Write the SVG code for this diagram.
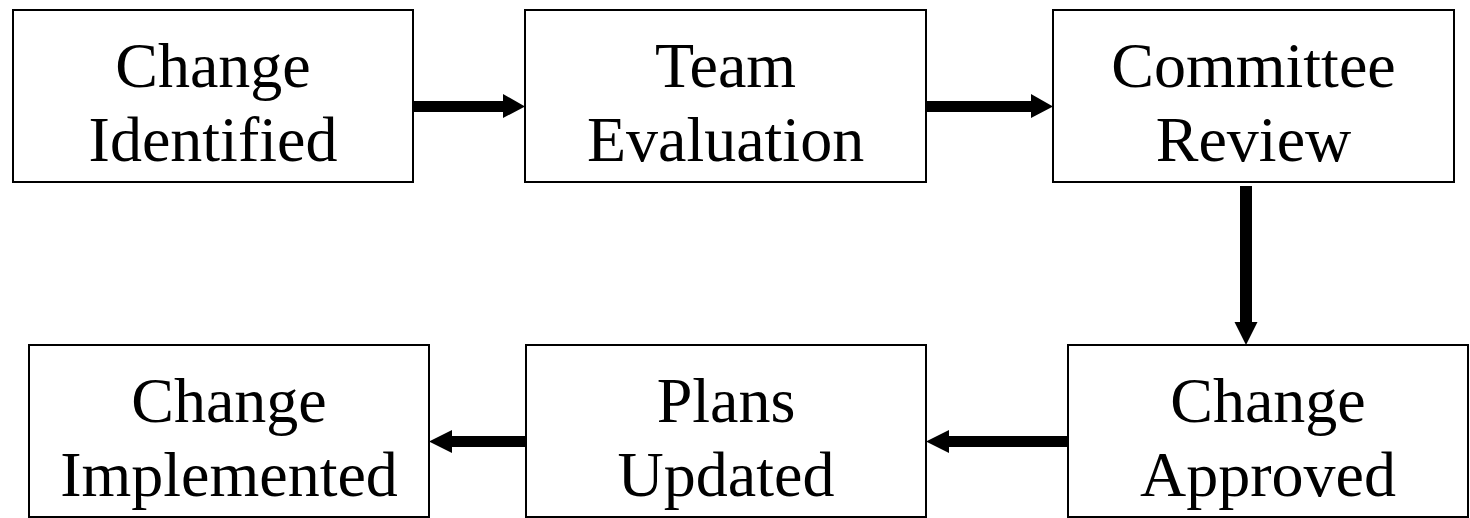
<svg xmlns="http://www.w3.org/2000/svg" width="1470" height="518" viewBox="0 0 1470 518">
  <style>
    .box { fill: #ffffff; stroke: #000000; stroke-width: 2; }
    .label { font-family: "Liberation Serif", "Times New Roman", serif; font-size: 64px; fill: #000000; text-anchor: middle; }
    .arrow { fill: #000000; stroke: none; }
  </style>
  <rect width="1470" height="518" fill="#ffffff"/>

  <g id="change-identified">
    <rect class="box" x="13" y="10" width="400" height="172"/>
    <text class="label" x="213" y="87">Change</text>
    <text class="label" x="213" y="161">Identified</text>
  </g>

  <g id="team-evaluation">
    <rect class="box" x="525" y="10" width="401" height="172"/>
    <text class="label" x="725.5" y="87">Team</text>
    <text class="label" x="725.5" y="161">Evaluation</text>
  </g>

  <g id="committee-review">
    <rect class="box" x="1053" y="10" width="401" height="172"/>
    <text class="label" x="1253.5" y="87">Committee</text>
    <text class="label" x="1253.5" y="161">Review</text>
  </g>

  <g id="change-approved">
    <rect class="box" x="1068" y="345" width="400" height="172"/>
    <text class="label" x="1268" y="422">Change</text>
    <text class="label" x="1268" y="496">Approved</text>
  </g>

  <g id="plans-updated">
    <rect class="box" x="526" y="345" width="400" height="172"/>
    <text class="label" x="726" y="422">Plans</text>
    <text class="label" x="726" y="496">Updated</text>
  </g>

  <g id="change-implemented">
    <rect class="box" x="29" y="345" width="400" height="172"/>
    <text class="label" x="229" y="422">Change</text>
    <text class="label" x="229" y="496">Implemented</text>
  </g>

  <!-- block arrows: shaft plus triangular head -->
  <g id="connectors">
    <polygon class="arrow" points="413,101 503,101 503,94 525,106.5 503,118 503,112 413,112"/>
    <polygon class="arrow" points="926,101 1031,101 1031,94 1053,106.5 1031,118 1031,112 926,112"/>
    <polygon class="arrow" points="1240,186 1252,186 1252,322 1257.5,322 1246,345 1234.5,322 1240,322"/>
    <polygon class="arrow" points="1068,436 949,436 949,430 926,441.5 949,453 949,447 1068,447"/>
    <polygon class="arrow" points="526,436 452,436 452,430 429,441.5 452,453 452,447 526,447"/>
  </g>
</svg>
